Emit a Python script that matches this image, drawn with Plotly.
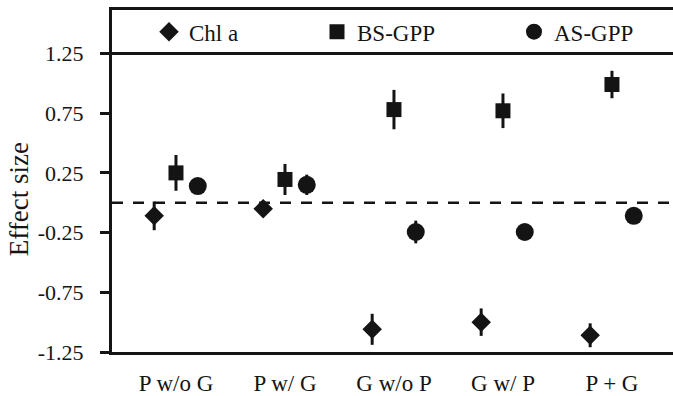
import plotly.graph_objects as go

categories = ["P w/o G", "P w/ G", "G w/o P", "G w/ P", "P + G"]
cat_pos = [1, 2, 3, 4, 5]

chl_a = [-0.11, -0.05, -1.06, -1.00, -1.11]
chl_a_err = [0.12, 0.03, 0.13, 0.115, 0.10]

bs_gpp = [0.25, 0.195, 0.78, 0.77, 0.99]
bs_gpp_err = [0.15, 0.13, 0.165, 0.145, 0.115]

as_gpp = [0.14, 0.15, -0.245, -0.245, -0.11]
as_gpp_err = [0.05, 0.085, 0.095, 0.04, 0.04]

y_tickvals = [-1.25, -0.75, -0.25, 0.25, 0.75, 1.25]
y_ticktext = ["-1.25", "-0.75", "-0.25", "0.25", "0.75", "1.25"]
y_title = "Effect size"

offset = 0.2
ink = "#141414"
FONT = "Liberation Serif, Times New Roman, serif"

fig = go.Figure()

series = [
    ("Chl a", chl_a, chl_a_err, "diamond", 15, -offset, "legend"),
    ("BS-GPP", bs_gpp, bs_gpp_err, "square", 15, 0.0, "legend2"),
    ("AS-GPP", as_gpp, as_gpp_err, "circle", 18, offset, "legend3"),
]
for name, vals, errs, sym, size, off, lg in series:
    fig.add_trace(go.Scatter(
        x=[p + off for p in cat_pos], y=vals, name=name, mode="markers",
        marker=dict(symbol=sym, size=size, color=ink, line=dict(width=0)),
        error_y=dict(type="data", array=errs, visible=True, width=0,
                     thickness=3, color=ink),
        legend=lg,
    ))

L, R, T, B = 112, 0, 10, 39
W, H = 673, 396
pw = W - L - R
ph = H - T - B

def px2paper_x(px):
    return (px - L) / pw

def px2paper_y(py):
    return (H - B - py) / ph

legend_common = dict(orientation="h", yanchor="middle", y=px2paper_y(32),
                     xanchor="left",
                     font=dict(family=FONT, size=23, color=ink),
                     bgcolor="rgba(0,0,0,0)", borderwidth=0)

fig.update_layout(
    width=W, height=H,
    margin=dict(l=L, r=R, t=T, b=B, pad=0),
    paper_bgcolor="white", plot_bgcolor="white",
    font=dict(family=FONT, size=22, color=ink),
    showlegend=True,
    legend=dict(x=px2paper_x(149), **legend_common),
    legend2=dict(x=px2paper_x(317), **legend_common),
    legend3=dict(x=px2paper_x(514), **legend_common),
    xaxis=dict(
        range=[0.413, 5.56], tickvals=cat_pos, ticktext=categories,
        showgrid=False, zeroline=False, showline=True, linecolor=ink,
        linewidth=3, mirror=True, ticks="", ticklabelstandoff=8,
        tickfont=dict(family=FONT, size=23, color=ink),
    ),
    yaxis=dict(
        range=[-1.25, 1.614], tickvals=y_tickvals, ticktext=y_ticktext,
        showgrid=False, zeroline=False, showline=True, linecolor=ink,
        linewidth=3, ticks="outside", ticklen=9, tickwidth=3, tickcolor=ink,
        ticklabelstandoff=12,
        tickfont=dict(family=FONT, size=22, color=ink),
    ),
    annotations=[
        dict(text=y_title, textangle=-90, xref="paper", yref="paper",
             x=px2paper_x(19), y=px2paper_y(202), xanchor="center",
             yanchor="middle", showarrow=False,
             font=dict(family=FONT, size=27, color=ink)),
    ],
    shapes=[
        dict(type="line", xref="paper", yref="y", x0=0, x1=1, y0=1.25, y1=1.25,
             line=dict(color=ink, width=3)),
        dict(type="line", xref="paper", yref="y", x0=0, x1=1, y0=0, y1=0,
             line=dict(color=ink, width=2.5, dash="11px,10px")),
    ],
)

fig.write_html("out.html")
